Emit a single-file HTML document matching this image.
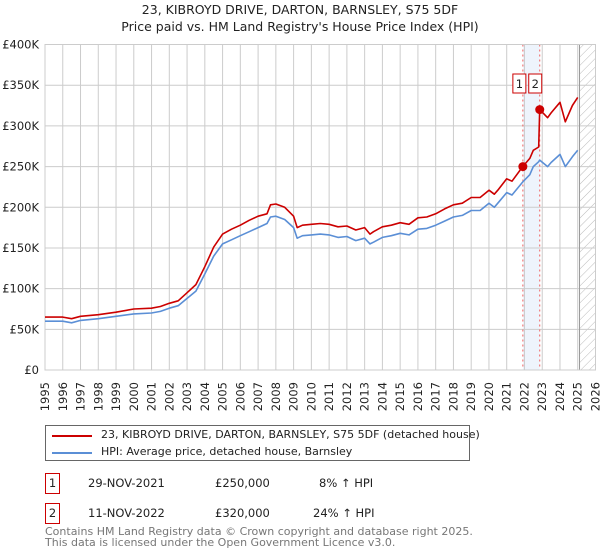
<!DOCTYPE html>
<html><head><meta charset="utf-8"><style>
body{margin:0;background:#fff;font-family:"DejaVu Sans","Liberation Sans",sans-serif;}
#wrap{position:relative;width:600px;height:560px;overflow:hidden}
svg text{font-family:"DejaVu Sans","Liberation Sans",sans-serif}
.lg{white-space:nowrap}
</style></head><body><div id="wrap">
<svg id="chart" width="600" height="560">
<defs><pattern id="hatch" width="6" height="6" patternUnits="userSpaceOnUse" patternTransform="rotate(45)"><line x1="0" y1="0" x2="0" y2="6" stroke="#bbb" stroke-width="1"/></pattern></defs>
<text x="300" y="14" text-anchor="middle" font-size="12.5" fill="#222">23, KIBROYD DRIVE, DARTON, BARNSLEY, S75 5DF</text>
<text x="300" y="31" text-anchor="middle" font-size="12.5" fill="#222">Price paid vs. HM Land Registry's House Price Index (HPI)</text>
<g id="grid"></g><g id="marks"></g><g id="axes"></g>
</svg>
<div style="position:absolute;left:45px;top:425px;width:423px;height:34px;border:1px solid #666;font-size:11px;color:#222">
<div style="position:absolute;left:6px;top:9px;width:40px;height:2px;background:#cc0000"></div>
<div class="lg" style="position:absolute;left:55px;top:2px">23, KIBROYD DRIVE, DARTON, BARNSLEY, S75 5DF (detached house)</div>
<div style="position:absolute;left:6px;top:26px;width:40px;height:2px;background:#5b8fd6"></div>
<div class="lg" style="position:absolute;left:55px;top:19px">HPI: Average price, detached house, Barnsley</div>
</div>
<div style="font-size:11.5px;color:#222">
<div style="position:absolute;left:45px;top:473px;width:13px;height:19px;border:1px solid #c00;text-align:center;line-height:19px">1</div>
<div style="position:absolute;left:88px;top:476px">29-NOV-2021</div>
<div style="position:absolute;left:215px;top:476px">£250,000</div>
<div style="position:absolute;left:319px;top:476px">8% ↑ HPI</div>
<div style="position:absolute;left:45px;top:503px;width:13px;height:19px;border:1px solid #c00;text-align:center;line-height:19px">2</div>
<div style="position:absolute;left:88px;top:506px">11-NOV-2022</div>
<div style="position:absolute;left:215px;top:506px">£320,000</div>
<div style="position:absolute;left:313px;top:506px">24% ↑ HPI</div>
</div>
<div style="position:absolute;left:45px;top:526px;font-size:11px;color:#777;line-height:11px">Contains HM Land Registry data © Crown copyright and database right 2025.<br>This data is licensed under the Open Government Licence v3.0.</div>
</div>
<script>
const years=[1995,1996,1996.5,1997,1998,1999,2000,2001,2001.5,2002,2002.5,2003,2003.5,2004,2004.5,2005,2005.5,2006,2006.5,2007,2007.5,2007.7,2008,2008.5,2009,2009.2,2009.5,2010,2010.5,2011,2011.5,2012,2012.5,2013,2013.3,2013.5,2014,2014.5,2015,2015.5,2016,2016.5,2017,2017.5,2018,2018.5,2019,2019.5,2020,2020.3,2020.5,2021,2021.3,2021.9,2022.3,2022.5,2022.8,2022.86,2023.3,2023.5,2024,2024.3,2024.7,2025];
const hpiValues=[60,60,58,61,63,66,69,70,72,76,79,88,97,118,140,155,160,165,170,175,180,188,189,185,175,162,165,166,167,166,163,164,159,162,155,157,163,165,168,166,173,174,178,183,188,190,196,196,205,200,205,218,215,231,240,250,256,258,250,255,265,250,262,270];
const priceValues=[65,65,63,66,68,71,75,76,78,82,85,95,105,127,151,167,173,178,184,189,192,203,204,200,189,175,178,179,180,179,176,177,172,175,167,170,176,178,181,179,187,188,192,198,203,205,212,212,221,216,221,235,232,250,260,270,274,320,310,316,329,305,325,335];
const saleYears=[2021.91,2022.86];
const salePrices=[250,320];
const yTicks=[0,50,100,150,200,250,300,350,400];
const yTickLabels=["£0","£50K","£100K","£150K","£200K","£250K","£300K","£350K","£400K"];
const xTicks=[];for(let y=1995;y<=2026;y++)xTicks.push(y);

const X0=45,X1=595.5,Y0=370,Y1=44.5;
const xs=v=>X0+(v-1995)/(2026-1995)*(X1-X0);
const ys=v=>Y0-v/400*(Y0-Y1);
const NS="http://www.w3.org/2000/svg";
function mk(tag,attrs,parent){const e=document.createElementNS(NS,tag);for(const k in attrs)e.setAttribute(k,attrs[k]);parent.appendChild(e);return e;}
const grid=document.getElementById('grid'),marks=document.getElementById('marks'),axes=document.getElementById('axes');
let sh=mk('rect',{x:xs(saleYears[0]),y:Y1,width:xs(saleYears[1])-xs(saleYears[0]),height:Y0-Y1,fill:'#eef4fc'},grid);


let hz=mk('rect',{x:xs(2025.1),y:Y1,width:X1-xs(2025.1),height:Y0-Y1,fill:'url(#hatch)'},grid);


xTicks.forEach((t,i)=>{
 let l=mk('line',{x1:xs(t),x2:xs(t),y1:Y1,y2:Y0,stroke:'#ccc','stroke-width':1},grid);
 
 
 let tx=mk('text',{x:0,y:0,'font-size':11.5,fill:'#222','text-anchor':'end',transform:`translate(${xs(t)+4},${Y0+12}) rotate(-90)`},axes);
 tx.textContent=t;
 
 
});
yTicks.forEach((t,i)=>{
 let l=mk('line',{x1:X0,x2:X1,y1:ys(t),y2:ys(t),stroke:'#ccc','stroke-width':1},grid);
 
 
 let tx=mk('text',{x:39,y:ys(t)+4,'font-size':11.5,fill:'#222','text-anchor':'end'},axes);
 tx.textContent=yTickLabels[i];
 
 
});
let vl=mk('line',{x1:xs(2025.1),x2:xs(2025.1),y1:Y1,y2:Y0,stroke:'#999','stroke-width':1},grid);


saleYears.forEach((s,i)=>{
 let l=mk('line',{x1:xs(s),x2:xs(s),y1:Y1,y2:Y0,stroke:'#f06060','stroke-width':1,'stroke-dasharray':'2,3'},grid);
 
 
 const bx=i===0? xs(s)-10 : xs(s)-11;
 let r=mk('rect',{x:bx,y:74,width:13,height:19,fill:'#fff',stroke:'#c00'},axes);
 
 
 let t=mk('text',{x:bx+6.5,y:88,'font-size':11.5,'text-anchor':'middle',fill:'#222'},axes);
 t.textContent=String(i+1);
 
 
});
mk('rect',{x:X0,y:Y1,width:X1-X0,height:Y0-Y1,fill:'none',stroke:'#ccc'},grid);
function line(vals,color,name){
 const d=years.map((y,i)=>(i?'L':'M')+xs(y).toFixed(1)+','+ys(vals[i]).toFixed(1)).join('');
 let p=mk('path',{d:d,fill:'none',stroke:color,'stroke-width':1.6,'stroke-linejoin':'round'},marks);
 
 
}
line(hpiValues,'#5b8fd6','hpi-line');
line(priceValues,'#cc0000','price-line');
saleYears.forEach((s,i)=>{
 let c=mk('circle',{cx:xs(s),cy:ys(salePrices[i]),r:4.5,fill:'#cc0000'},marks);
 
 
});
</script>
</body></html>
